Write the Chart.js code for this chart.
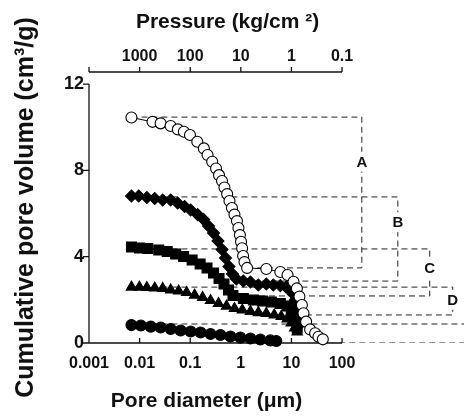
<!DOCTYPE html>
<html>
<head>
<meta charset="utf-8">
<script src="https://cdn.jsdelivr.net/npm/chart.js@4.4.1/dist/chart.umd.min.js"></script>
<style>
  html, body { margin: 0; padding: 0; background: #fff; }
  #wrap { width: 464px; height: 416px; }
</style>
</head>
<body>
<div id="wrap"><canvas id="myChart" width="464" height="416"></canvas></div>
<script>
// pore diameter (um) and cumulative pore volume (cm3/g)
let diameterA = [0.0069, 0.018, 0.026, 0.041, 0.057, 0.075, 0.099, 0.138, 0.186, 0.22, 0.272, 0.324, 0.371, 0.425, 0.475, 0.537, 0.597, 0.668, 0.748, 0.838, 0.897, 0.959, 1.01, 1.06, 1.11, 1.18, 1.33, 3.19, 6.03, 8.38, 11.0, 12.8, 14.4, 16.1, 17.3, 19.5, 23.4, 29.4, 34.2, 41.7];
let volumeA = [10.45, 10.25, 10.18, 10.06, 9.90, 9.79, 9.64, 9.33, 9.02, 8.71, 8.40, 8.09, 7.78, 7.51, 7.21, 6.90, 6.58, 6.26, 5.95, 5.65, 5.33, 5.00, 4.69, 4.39, 4.03, 3.75, 3.48, 3.43, 3.29, 3.15, 2.84, 2.53, 2.15, 1.76, 1.38, 0.99, 0.63, 0.45, 0.29, 0.17];

let diameterB = [0.0069, 0.0096, 0.0139, 0.0199, 0.0286, 0.0411, 0.0565, 0.0776, 0.102, 0.140, 0.184, 0.230, 0.289, 0.354, 0.425, 0.498, 0.583, 0.684, 0.818, 1.12, 1.55, 2.22, 3.19, 4.39, 6.03, 7.91, 9.47, 10.8, 11.9, 12.7, 13.6, 14.9];
let volumeB = [6.81, 6.81, 6.74, 6.70, 6.63, 6.63, 6.49, 6.33, 6.16, 5.95, 5.72, 5.42, 5.10, 4.73, 4.33, 3.94, 3.54, 3.20, 2.97, 2.87, 2.83, 2.69, 2.73, 2.69, 2.66, 2.59, 2.50, 2.27, 1.99, 1.67, 1.30, 0.88];

let diameterC = [0.0069, 0.0099, 0.0145, 0.0239, 0.0351, 0.0516, 0.0741, 0.109, 0.157, 0.215, 0.289, 0.371, 0.465, 0.570, 0.699, 1.12, 1.77, 2.66, 4.00, 6.03, 8.26, 9.91, 11.4, 13.0];
let volumeC = [4.45, 4.40, 4.38, 4.31, 4.24, 4.12, 4.01, 3.85, 3.66, 3.48, 3.24, 2.99, 2.73, 2.46, 2.20, 2.06, 1.99, 1.95, 1.90, 1.83, 1.71, 1.44, 1.07, 0.70];

let diameterD = [0.0069, 0.0099, 0.0139, 0.0199, 0.0286, 0.0411, 0.0591, 0.0849, 0.122, 0.176, 0.252, 0.362, 0.521, 0.748, 1.07, 1.55, 2.22, 3.19, 4.58, 6.29, 8.26, 9.91, 11.6, 13.0];
let volumeD = [2.59, 2.59, 2.57, 2.55, 2.53, 2.46, 2.41, 2.34, 2.22, 2.11, 1.97, 1.83, 1.71, 1.60, 1.53, 1.46, 1.41, 1.37, 1.30, 1.23, 1.11, 0.93, 0.70, 0.51];

let diameterE = [0.0069, 0.0106, 0.0166, 0.0261, 0.0411, 0.0647, 0.102, 0.160, 0.252, 0.396, 0.624, 0.98, 1.55, 2.43, 3.82, 5.02];
let volumeE = [0.83, 0.81, 0.76, 0.72, 0.65, 0.58, 0.53, 0.49, 0.42, 0.37, 0.30, 0.25, 0.21, 0.16, 0.12, 0.09];

// dashed brackets A-D (E runs off the right edge)
let bracketNames = ['A', 'B', 'C', 'D', ''];
let bracketTop = [10.47, 6.77, 4.36, 2.59, 0.88];
let bracketBottom = [3.48, 2.87, 2.18, 1.30, 0];
let bracketRight = [246, 1265, 5400, 15400, 100000];
let bracketBottomStart = [1.33, 2.0, 1.12, 3.0, 60];
let bracketLabelY = [8.4, 5.6, 3.5, 2.0];

// tick labels
let diameterTicks = [0.001, 0.01, 0.1, 1, 10, 100];
let pressureTicks = [10000, 1000, 100, 10, 1, 0.1];
let volumeTicks = [0, 4, 8, 12];

const FONT = '"Liberation Sans", Arial, Helvetica, sans-serif';
Chart.defaults.color = '#111';
Chart.defaults.font.family = FONT;

function toPoints(xs, ys) {
    return xs.map((v, i) => ({ x: v, y: ys[i] }));
}

let markerSeries = [
    { d: diameterA, v: volumeA, style: 'circle', r: 5.5, fill: '#fff' },
    { d: diameterB, v: volumeB, style: 'rectRot', r: 6, fill: '#000' },
    { d: diameterC, v: volumeC, style: 'rect', r: 7, fill: '#000' },
    { d: diameterD, v: volumeD, style: 'triangle', r: 6, fill: '#000' },
    { d: diameterE, v: volumeE, style: 'circle', r: 5.5, fill: '#000' }
];

let datasets = markerSeries.map((s, i) => ({
    data: toPoints(s.d, s.v),
    showLine: true,
    borderColor: '#000',
    borderWidth: 1,
    pointStyle: s.style,
    pointRadius: s.r,
    pointBackgroundColor: s.fill,
    pointBorderColor: '#000',
    pointBorderWidth: 1.1,
    clip: false,
    order: i
}));

bracketTop.forEach((top, i) => {
    datasets.push({
        data: [
            { x: diameterA[0], y: top },
            { x: bracketRight[i], y: top },
            { x: bracketRight[i], y: bracketBottom[i] },
            { x: bracketBottomStart[i], y: bracketBottom[i] }
        ],
        showLine: true,
        borderColor: '#222',
        borderWidth: 1,
        borderDash: [6, 4],
        pointRadius: 0,
        order: 10
    });
});

const axisPlugin = {
    id: 'axisLines',
    beforeDatasetsDraw(chart) {
        const { ctx, chartArea, scales: { x, x2, y } } = chart;
        const x0 = x.getPixelForValue(diameterTicks[0]);
        const x1 = x.getPixelForValue(diameterTicks[diameterTicks.length - 1]);
        const yb = y.getPixelForValue(0);
        const yt = y.getPixelForValue(volumeTicks[volumeTicks.length - 1]);
        const ya = chartArea.top;
        ctx.save();
        ctx.strokeStyle = '#111';
        ctx.lineWidth = 1.3;
        ctx.beginPath();
        // bottom axis
        ctx.moveTo(x0, yb);
        ctx.lineTo(x1, yb);
        diameterTicks.forEach(v => {
            let px = x.getPixelForValue(v);
            ctx.moveTo(px, yb);
            ctx.lineTo(px, yb - 5);
        });
        // left axis
        ctx.moveTo(x0, yb);
        ctx.lineTo(x0, yt);
        volumeTicks.forEach(v => {
            let py = y.getPixelForValue(v);
            ctx.moveTo(x0, py);
            ctx.lineTo(x0 - 6, py);
        });
        // top (pressure) axis
        ctx.moveTo(x2.getPixelForValue(pressureTicks[0]), ya);
        ctx.lineTo(x2.getPixelForValue(pressureTicks[pressureTicks.length - 1]), ya);
        pressureTicks.forEach(v => {
            let px = x2.getPixelForValue(v);
            ctx.moveTo(px, ya);
            ctx.lineTo(px, ya - 5);
        });
        ctx.stroke();

        // axis titles for the two horizontal axes, centred a bit off the axis middle like the original
        let mid = (x0 + x1) / 2;
        ctx.fillStyle = '#111';
        ctx.textAlign = 'center';
        ctx.textBaseline = 'middle';
        ctx.font = 'bold 21px ' + FONT;
        ctx.fillText('Pressure (kg/cm \u00b2)', mid + 12, 22);
        ctx.fillText('Pore diameter (\u03bcm)', mid - 9, 401);
        ctx.restore();
    },
    afterDatasetsDraw(chart) {
        const { ctx, scales: { x, y } } = chart;
        ctx.save();
        ctx.font = 'bold 15px ' + FONT;
        ctx.textAlign = 'center';
        ctx.textBaseline = 'middle';
        bracketLabelY.forEach((v, i) => {
            let px = x.getPixelForValue(bracketRight[i]);
            let py = y.getPixelForValue(v);
            let w = ctx.measureText(bracketNames[i]).width;
            ctx.fillStyle = '#fff';
            ctx.fillRect(px - w / 2 - 2, py - 10, w + 4, 20);
            ctx.fillStyle = '#111';
            ctx.fillText(bracketNames[i], px, py + 1);
        });
        ctx.restore();
    }
};

function setTicks(list) {
    return function (scale) {
        scale.ticks = list.map(v => ({ value: v }));
    };
}

function fixHeight(h) {
    return function (scale) {
        scale.height = h;
        scale.paddingLeft = 0;
        scale.paddingRight = 0;
    };
}

let myChart = new Chart(document.getElementById('myChart'), {
    type: 'scatter',
    data: { datasets },
    options: {
        responsive: false,
        animation: false,
        layout: { padding: 0, autoPadding: false },
        plugins: { legend: { display: false }, tooltip: { enabled: false } },
        scales: {
            x: {
                type: 'logarithmic',
                position: 'bottom',
                min: 0.001,
                max: 25700,
                grid: { display: false, drawTicks: false },
                border: { display: false },
                afterBuildTicks: setTicks(diameterTicks),
                afterFit: fixHeight(73),
                ticks: {
                    autoSkip: false,
                    maxRotation: 0,
                    padding: 11,
                    font: { size: 16, weight: 'bold' },
                    callback: value => String(value)
                }
            },
            x2: {
                type: 'logarithmic',
                position: 'top',
                reverse: true,
                min: 10 / 25700,
                max: 10000,
                grid: { display: false, drawTicks: false },
                border: { display: false },
                afterBuildTicks: setTicks(pressureTicks),
                afterFit: fixHeight(72),
                ticks: {
                    autoSkip: false,
                    maxRotation: 0,
                    padding: 6,
                    font: { size: 16, weight: 'bold' },
                    callback: value => (value === 10000 ? '' : String(value))
                }
            },
            y: {
                type: 'linear',
                min: 0,
                max: 12.56,
                grid: { display: false, drawTicks: false },
                border: { display: false },
                afterBuildTicks: setTicks(volumeTicks),
                afterFit: scale => { scale.width = 89; },
                ticks: {
                    padding: 5,
                    font: { size: 18, weight: 'bold' }
                },
                title: {
                    display: true,
                    text: 'Cumulative pore volume (cm\u00b3/g)',
                    font: { size: 25, weight: 'bold' },
                    padding: { top: 11, bottom: 0 }
                }
            }
        }
    },
    plugins: [axisPlugin]
});
</script>
</body>
</html>
